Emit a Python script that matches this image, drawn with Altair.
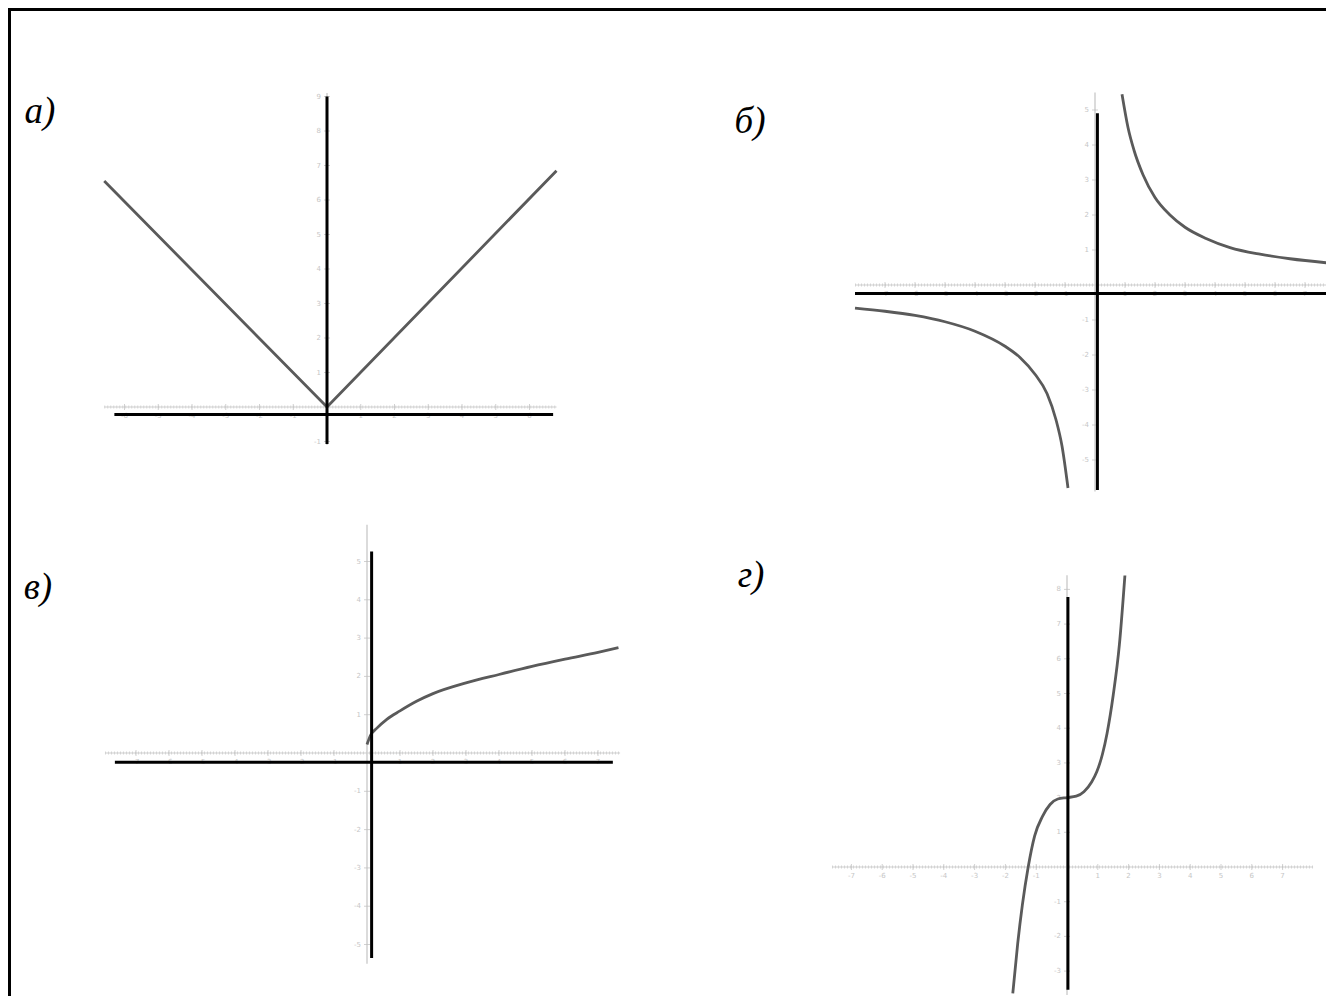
import altair as alt
import pandas as pd

# ---------------- canvas ----------------
W, H = 1318, 988
OFF = 8  # page margin

# ---------------- data ----------------
# а)  y = |x|
A_X = [-6.6, 0.0, 6.8]
A_Y = [6.55, 0.0, 6.85]
A_XTICKS = [-6, -5, -4, -3, -2, -1, 1, 2, 3, 4, 5, 6]
A_YTICKS = [-1, 1, 2, 3, 4, 5, 6, 7, 8, 9]

# б)  hyperbola, two branches
B_UP_X = [0.9, 1.1, 1.3, 1.6, 2.0, 2.5, 3.0, 3.7, 4.5, 5.5, 6.5, 7.9]
B_UP_Y = [5.45, 4.5, 3.85, 3.15, 2.5, 2.0, 1.65, 1.33, 1.07, 0.88, 0.75, 0.62]
B_LO_X = [-8.0, -7.0, -6.0, -5.0, -4.0, -3.0, -2.5, -2.0, -1.6, -1.3, -1.1, -0.9]
B_LO_Y = [-0.66, -0.75, -0.87, -1.05, -1.32, -1.75, -2.07, -2.55, -3.1, -3.85, -4.6, -5.8]
B_XTICKS = [-7, -6, -5, -4, -3, -2, -1, 1, 2, 3, 4, 5, 6, 7]
B_YTICKS = [-5, -4, -3, -2, -1, 1, 2, 3, 4, 5]

# в)  root-like curve
C_X = [0.0, 0.1, 0.3, 0.6, 1.0, 1.5, 2.0, 3.0, 4.0, 5.0, 6.0, 7.0, 7.62]
C_Y = [0.22, 0.45, 0.65, 0.88, 1.1, 1.35, 1.55, 1.83, 2.05, 2.26, 2.45, 2.63, 2.75]
C_XTICKS = [-7, -6, -5, -4, -3, -2, -1, 1, 2, 3, 4, 5, 6, 7]
C_YTICKS = [-5, -4, -3, -2, -1, 1, 2, 3, 4, 5]

# г)  cubic-like curve
D_X = [-1.76, -1.6, -1.45, -1.26, -1.05, -0.8, -0.55, -0.3, 0.0, 0.3, 0.55, 0.8,
       0.97, 1.15, 1.3, 1.5, 1.7, 1.88]
D_Y = [-3.64, -2.2, -1.1, 0.0, 0.9, 1.45, 1.8, 1.96, 2.0, 2.04, 2.17, 2.45,
       2.75, 3.25, 3.85, 4.95, 6.4, 8.4]
D_XTICKS = [-7, -6, -5, -4, -3, -2, -1, 1, 2, 3, 4, 5, 6, 7]
D_YTICKS = [-3, -2, -1, 1, 2, 3, 4, 5, 6, 7, 8]

LABELS = ["а)", "б)", "в)", "г)"]

# ---------------- styles ----------------
GREY_LINE = "#cfcfcf"
GREY_DOT = "#d6d6d6"
GREY_TICK = "#bdbdbd"
GREY_TEXT = "#c6c6c6"
CURVE = "#5a5a5a"


def scales(ox, oy, ux, uy):
    xs = alt.Scale(domain=[(OFF - ox) / ux, (OFF + W - ox) / ux], nice=False, zero=False)
    ys = alt.Scale(domain=[(oy - OFF - H) / uy, (oy - OFF) / uy], nice=False, zero=False)
    return xs, ys


def panel(geom, curves, interp, xticks, yticks, gx, gy, bh, bv):
    xs, ys = scales(*geom)

    def X(f):
        return alt.X(f, type="quantitative", scale=xs, axis=None)

    def Y(f):
        return alt.Y(f, type="quantitative", scale=ys, axis=None)

    layers = []
    gxdf = pd.DataFrame({"x": [gx[0]], "x2": [gx[1]], "y": [0.0]})
    layers.append(alt.Chart(gxdf).mark_rule(color=GREY_DOT, strokeWidth=3, strokeDash=[1, 2])
                  .encode(x=X("x"), x2="x2", y=Y("y")))
    layers.append(alt.Chart(gxdf).mark_rule(color=GREY_LINE, strokeWidth=1)
                  .encode(x=X("x"), x2="x2", y=Y("y")))
    gydf = pd.DataFrame({"x": [0.0], "y": [gy[0]], "y2": [gy[1]]})
    layers.append(alt.Chart(gydf).mark_rule(color=GREY_LINE, strokeWidth=1.5)
                  .encode(x=X("x"), y=Y("y"), y2="y2"))

    xt = pd.DataFrame({"x": xticks, "y": [0.0] * len(xticks), "lab": [str(t) for t in xticks]})
    layers.append(alt.Chart(xt).mark_tick(orient="vertical", size=6, thickness=1, color=GREY_TICK)
                  .encode(x=X("x"), y=Y("y")))
    layers.append(alt.Chart(xt).mark_text(dy=9, fontSize=7, color=GREY_TEXT, font="DejaVu Sans")
                  .encode(x=X("x"), y=Y("y"), text="lab:N"))
    yt = pd.DataFrame({"x": [0.0] * len(yticks), "y": yticks, "lab": [str(t) for t in yticks]})
    layers.append(alt.Chart(yt).mark_tick(orient="horizontal", size=6, thickness=1, color=GREY_TICK)
                  .encode(x=X("x"), y=Y("y")))
    layers.append(alt.Chart(yt).mark_text(dx=-6, align="right", fontSize=7, color=GREY_TEXT,
                                          font="DejaVu Sans")
                  .encode(x=X("x"), y=Y("y"), text="lab:N"))

    rows = []
    for b, (cx, cy) in enumerate(curves):
        for i, (a, c) in enumerate(zip(cx, cy)):
            rows.append({"x": a, "y": c, "b": b, "i": i})
    cdf = pd.DataFrame(rows)
    layers.append(alt.Chart(cdf).mark_line(color=CURVE, strokeWidth=2.8, interpolate=interp)
                  .encode(x=X("x"), y=Y("y"), detail="b:N", order=alt.Order("i:Q")))

    if bh is not None:
        bhdf = pd.DataFrame({"y": [bh[0]], "x": [bh[1]], "x2": [bh[2]]})
        layers.append(alt.Chart(bhdf).mark_rule(color="black", strokeWidth=3)
                      .encode(x=X("x"), x2="x2", y=Y("y")))
    if bv is not None:
        bvdf = pd.DataFrame({"x": [bv[0]], "y": [bv[1]], "y2": [bv[2]]})
        layers.append(alt.Chart(bvdf).mark_rule(color="black", strokeWidth=3)
                      .encode(x=X("x"), y=Y("y"), y2="y2"))
    return alt.layer(*layers)


pA = panel((327, 407, 33.75, 34.5), [(A_X, A_Y)], "linear", A_XTICKS, A_YTICKS,
           (-6.6, 6.8), (-1.1, 9.1), (-0.22, -6.3, 6.7), (0.0, -1.07, 9.0))
pB = panel((1095, 285, 30.0, 35.0), [(B_UP_X, B_UP_Y), (B_LO_X, B_LO_Y)], "monotone",
           B_XTICKS, B_YTICKS, (-8.0, 8.2), (-5.9, 5.5), (-0.24, -8.0, 8.2), (0.08, -5.86, 4.91))
pC = panel((367, 753, 33.0, 38.3), [(C_X, C_Y)], "monotone", C_XTICKS, C_YTICKS,
           (-7.94, 7.67), (-5.5, 5.96), (-0.24, -7.64, 7.45), (0.14, -5.35, 5.26))
pD = panel((1067, 867, 30.8, 34.7), [(D_X, D_Y)], "monotone", D_XTICKS, D_YTICKS,
           (-7.63, 7.99), (-3.69, 8.41), None, (0.03, -3.54, 7.78))

one = pd.DataFrame({"k": [0]})
frame_top = alt.Chart(one).mark_rule(color="black", strokeWidth=4).encode(
    x=alt.value(0), x2=alt.value(W), y=alt.value(1))
frame_left = alt.Chart(one).mark_rule(color="black", strokeWidth=4).encode(
    x=alt.value(1), y=alt.value(0), y2=alt.value(H))

label_pos = [(32, 104), (742, 114), (30, 580), (743, 568)]
label_layers = []
for t, (lx, ly) in zip(LABELS, label_pos):
    label_layers.append(
        alt.Chart(pd.DataFrame({"t": [t]})).mark_text(
            font="Liberation Serif", fontStyle="italic", fontSize=37, color="black",
            align="center", baseline="middle"
        ).encode(x=alt.value(lx), y=alt.value(ly), text="t:N")
    )

chart = alt.layer(pA, pB, pC, pD, frame_top, frame_left, *label_layers).resolve_scale(
    x="independent", y="independent"
).properties(
    width=W, height=H, padding=0, autosize=alt.AutoSizeParams(type="none"),
    background="white"
).configure_view(stroke=None)

chart.save("out.html", embed_options={"renderer": "svg", "actions": False})
